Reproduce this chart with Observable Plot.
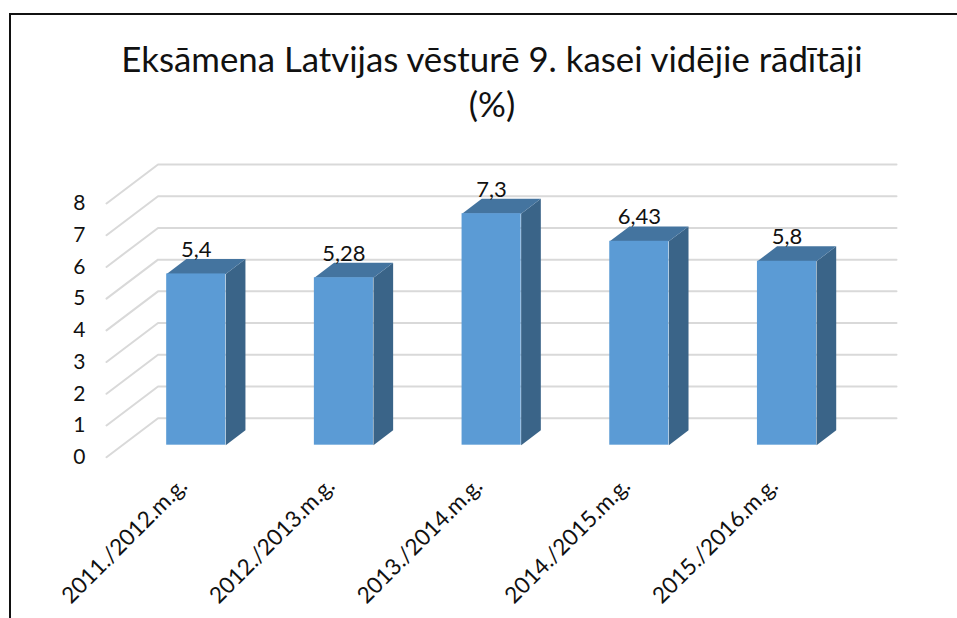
<!DOCTYPE html>
<html>
<head>
<meta charset="utf-8">
<script src="https://cdn.jsdelivr.net/npm/d3@7"></script>
<script src="https://cdn.jsdelivr.net/npm/@observablehq/plot@0.6"></script>
<style>
html,body{margin:0;padding:0;background:#fff;overflow:hidden}
#chart{position:relative;width:957px;height:618px}
#chart svg{position:absolute;left:0;top:0}
#frame{position:absolute;left:9px;top:13px;right:-4px;bottom:-4px;border-left:2px solid #111;border-top:2px solid #111}
</style>
</head>
<body>
<div id="chart"><div id="frame"></div></div>
<script>
const categories = ["2011./2012.m.g.", "2012./2013.m.g.", "2013./2014.m.g.", "2014./2015.m.g.", "2015./2016.m.g."];
const values = [5.4, 5.28, 7.3, 6.43, 5.8];
const valueLabels = ["5,4", "5,28", "7,3", "6,43", "5,8"];
const yTicks = [0, 1, 2, 3, 4, 5, 6, 7, 8];
const titleLine1 = "Eksāmena Latvijas vēsturē 9. kasei vidējie rādītāji";
const titleLine2 = "(%)";

// Oblique projection, expressed in data units of the two scales
const depthX = 0.349, depthY = 1.23;
const halfBar = 0.2, barZ0 = 0.308, barZ1 = 0.69;
const P = (i, v, z) => ({x: i + z * depthX, y: v + z * depthY});

const bars = values.map((v, i) => ({i, v, label: valueLabels[i]}));
const poly = (id, pts) => pts.map(p => ({id, ...p}));
const sides = bars.flatMap(({i, v}) => poly("s" + i, [
  P(i + halfBar, 0, barZ0), P(i + halfBar, 0, barZ1), P(i + halfBar, v, barZ1), P(i + halfBar, v, barZ0)
]));
const tops = bars.flatMap(({i, v}) => poly("t" + i, [
  P(i - halfBar, v, barZ0), P(i + halfBar, v, barZ0), P(i + halfBar, v, barZ1), P(i - halfBar, v, barZ1)
]));
const grid = yTicks.flatMap(t => poly("g" + t, [
  P(-0.5, t, 0), P(-0.5, t, 1), P(4.5, t, 1)
]));

const chart = Plot.plot({
  width: 957,
  height: 618,
  marginLeft: 106,
  marginRight: 60,
  marginTop: 0,
  marginBottom: 161.3,
  style: {background: "transparent", fontFamily: "Lato, sans-serif"},
  x: {domain: [-0.5, 4.5 + depthX], range: [106, 896]},
  y: {domain: [0, 8 + depthY], range: [456.7, 164]},
  marks: [
    Plot.line(grid, {x: "x", y: "y", z: "id", stroke: "#d9d9d9", strokeWidth: 2, curve: "linear"}),
    Plot.line(sides, {x: "x", y: "y", z: "id", fill: "#3a6488", stroke: "none"}),
    Plot.line(tops, {x: "x", y: "y", z: "id", fill: "#44749f", stroke: "none"}),
    Plot.rect(bars, {
      x1: d => P(d.i - halfBar, 0, barZ0).x,
      x2: d => P(d.i + halfBar, 0, barZ0).x,
      y1: d => P(d.i, 0, barZ0).y,
      y2: d => P(d.i, d.v, barZ0).y,
      fill: "#5b9bd5"
    }),
    Plot.text(bars, {
      x: d => P(d.i, d.v, barZ0).x,
      y: d => P(d.i, d.v, barZ0).y,
      text: "label",
      dy: -24,
      fontSize: 22,
      fill: "#111"
    }),
    Plot.axisY({
      anchor: "left", ticks: yTicks, tickSize: 0, tickPadding: 21,
      tickFormat: d => String(d), label: null, fontSize: 21, fill: "#111"
    }),
    Plot.axisX({
      anchor: "bottom", ticks: categories.map((_, i) => i), tickSize: 0, tickPadding: 25,
      tickFormat: i => categories[i], tickRotate: -45, textAnchor: "end",
      label: null, fontSize: 22.5, fill: "#111", dx: 3
    }),
    Plot.text([titleLine1], {
      text: d => d, frameAnchor: "top", lineAnchor: "middle",
      dx: -10, dy: 60, fontSize: 34.8, fill: "#111"
    }),
    Plot.text([titleLine2], {
      text: d => d, frameAnchor: "top", lineAnchor: "middle",
      dx: -10, dy: 105, fontSize: 34.8, fill: "#111"
    })
  ]
});
document.getElementById("chart").append(chart);
</script>
</body>
</html>
